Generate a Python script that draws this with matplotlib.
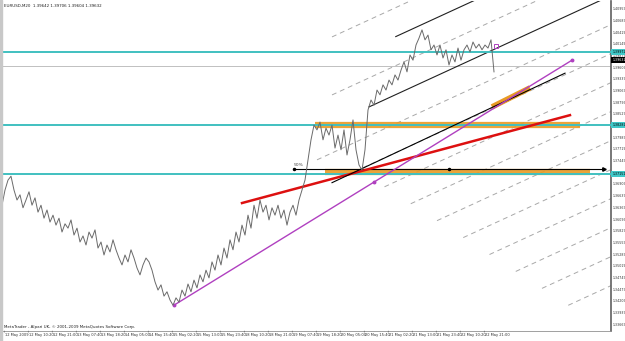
import numpy as np
import matplotlib
matplotlib.use("Agg")
import matplotlib.pyplot as plt

# price series, one value every 4 bars (M20)
close = [
    1.3643, 1.3678, 1.3701, 1.3710, 1.3678, 1.3655, 1.3667, 1.3637, 1.3655, 1.3674,
    1.3643, 1.3660, 1.3627, 1.3643, 1.3613, 1.3632, 1.3604, 1.3620, 1.3597, 1.3613,
    1.3581, 1.3600, 1.3590, 1.3609, 1.3574, 1.3590, 1.3558, 1.3572, 1.3551, 1.3581,
    1.3567, 1.3586, 1.3544, 1.3558, 1.3528, 1.3551, 1.3535, 1.3563, 1.3540, 1.3521,
    1.3505, 1.3528, 1.3512, 1.3540, 1.3521, 1.3498, 1.3482, 1.3505, 1.3521, 1.3512,
    1.3493, 1.3466, 1.3447, 1.3459, 1.3433, 1.3443, 1.3424, 1.3412, 1.3429, 1.3419,
    1.3447, 1.3433, 1.3461, 1.3443, 1.3470, 1.3452, 1.3482, 1.3466, 1.3493, 1.3475,
    1.3512, 1.3493, 1.3528, 1.3505, 1.3544, 1.3521, 1.3563, 1.3540, 1.3581, 1.3558,
    1.3597, 1.3574, 1.3620, 1.3590, 1.3643, 1.3613, 1.3655, 1.3627, 1.3643, 1.3609,
    1.3637, 1.3620, 1.3643, 1.3613, 1.3632, 1.3597, 1.3627, 1.3643, 1.3620, 1.3655,
    1.3678, 1.3701, 1.3747, 1.3794, 1.3828, 1.3817, 1.3835, 1.3794, 1.3821, 1.3805,
    1.3828, 1.3775, 1.3805, 1.3771, 1.3817, 1.3759, 1.3794, 1.3840, 1.3771, 1.3736,
    1.3724, 1.3771, 1.3863, 1.3886, 1.3874, 1.3909, 1.3898, 1.3921, 1.3909, 1.3932,
    1.3921, 1.3944, 1.3932, 1.3955, 1.3974, 1.3951, 1.3990, 1.3978, 1.4013, 1.4029,
    1.4048, 1.4025, 1.4036, 1.4002, 1.4013, 1.3990, 1.4013, 1.3983, 1.4002, 1.3967,
    1.3990, 1.3974, 1.4006, 1.3978, 1.4002, 1.4013, 1.3997, 1.4020, 1.4006, 1.4015,
    1.4002, 1.4013, 1.4006, 1.4025, 1.3951,
]
bar_step = 4

time_labels = [
    "12 May 2009", "12 May 10:20", "12 May 21:00", "13 May 07:40", "13 May 18:20",
    "14 May 05:00", "14 May 15:40", "15 May 02:20", "15 May 13:00", "15 May 23:40",
    "18 May 10:20", "18 May 21:00", "19 May 07:40", "19 May 18:20", "20 May 05:00",
    "20 May 15:40", "21 May 02:20", "21 May 13:00", "21 May 23:40", "22 May 10:20",
    "22 May 21:00",
]
price_ticks = [
    1.40959, 1.40689, 1.40419, 1.40149, 1.39879, 1.39609, 1.39339, 1.39069, 1.38799,
    1.38529, 1.38259, 1.37989, 1.37719, 1.37449, 1.37179, 1.36909, 1.36639, 1.36369,
    1.36099, 1.35829, 1.35559, 1.35289, 1.35019, 1.34749, 1.34479, 1.34209, 1.33939,
    1.33669,
]

# horizontal levels
cyan_levels = [1.39972, 1.38282, 1.37151]
bid_line = 1.39642
bid_label = 1.39790

# trend lines (bar, price) pairs
purple_line = [(229.3, 1.3412), (760.0, 1.3978)]
purple_mid = (496.0, 1.3697)
red_line = [(320.0, 1.3648), (757.3, 1.3851)]
black_line = [(440.0, 1.3695), (750.7, 1.3948)]
orange_flat = [(417.3, 770.7, 1.3828), (430.7, 784.0, 1.3720)]
orange_diag = [(653.3, 1.3870), (704.0, 1.3914)]
fifty_line = (389.3, 802.7, 1.3727)
fifty_dot = 596.0

# equidistant channel
chan_start = 489.3
chan_price = 1.3870
chan_slope = 0.0000797      # price per bar
chan_step = 0.0067
solid_k = [0, -2]
solid_start = [489.3, 525.0]
dashed_k = [-3, -1, 1, 2, 3, 4, 5, 6, 7, 8, 9, 10]
dashed_start = [440, 440, 420, 460, 510, 545, 580, 615, 650, 685, 720, 755]

x_max = 812
y_lo, y_hi = 1.33524, 1.41147

fig = plt.figure(figsize=(6.25, 3.41), dpi=100)
fig.patch.set_facecolor("white")
ax = fig.add_axes([2 / 625, 10 / 341, 609 / 625, 330 / 341])
ax.set_xlim(0, x_max)
ax.set_ylim(y_lo, y_hi)
for s in ["top", "left"]:
    ax.spines[s].set_visible(False)
ax.spines["right"].set_color("#606060")
ax.spines["right"].set_linewidth(1.2)
ax.spines["bottom"].set_color("#909090")
ax.spines["bottom"].set_linewidth(0.6)
ax.set_xticks([])
ax.set_yticks([])

# left border strip
fig.patches.append(plt.Rectangle((0, 0), 2 / 625, 1, transform=fig.transFigure,
                                 color="#c8c8c8", zorder=0))

# channel
for k, x0 in zip(dashed_k, dashed_start):
    xs = np.array([x0, x_max + 10])
    ys = chan_price - k * chan_step + chan_slope * (xs - chan_start)
    ax.plot(xs, ys, color="#a8a8a8", lw=0.7, ls=(0, (5, 4)), zorder=1)
for k, x0 in zip(solid_k, solid_start):
    xs = np.array([x0, x_max + 10])
    ys = chan_price - k * chan_step + chan_slope * (xs - chan_start)
    ax.plot(xs, ys, color="#202020", lw=0.8, zorder=2)

# horizontal levels
ax.axhline(bid_line, color="#c0c0c0", lw=0.7, zorder=1)
for lv in cyan_levels:
    ax.axhline(lv, color="#40c0c0", lw=1.4, zorder=4)

# orange zones
for x0, x1, p in orange_flat:
    ax.plot([x0, x1], [p, p], color="#e89a24", lw=4.5, solid_capstyle="butt",
            alpha=0.9, zorder=3)
ax.plot(*zip(*orange_diag), color="#e89a24", lw=4, solid_capstyle="butt", zorder=3)

# fib 50% line
ax.plot([fifty_line[0], fifty_line[1]], [fifty_line[2]] * 2, color="black", lw=0.8,
        zorder=5)
ax.plot([fifty_line[0], fifty_dot], [fifty_line[2]] * 2, "o", color="black", ms=1.5,
        zorder=5)
ax.plot([fifty_line[1]], [fifty_line[2]], marker=">", color="black", ms=2.5, zorder=5)
ax.text(fifty_line[0] - 1, fifty_line[2] + 0.0004, "50%", fontsize=3.2,
        color="#404040", va="bottom", ha="left")

# trend lines
ax.plot(*zip(*red_line), color="#dd1010", lw=1.8, zorder=6)
ax.plot(*zip(*black_line), color="black", lw=0.8, zorder=6)
ax.plot(*zip(*purple_line), color="#b040c0", lw=1.0, zorder=6)
ax.plot(*zip(*(purple_line + [purple_mid])), "o", color="#b040c0", ms=1.8,
        ls="none", zorder=6)
ax.plot([659], [1.4010], marker="s", mfc="none", mec="#b040c0", ms=3, mew=0.7,
        zorder=6)

# price
bars = np.arange(len(close)) * bar_step
ax.plot(bars, close, color="#6a6a6a", lw=0.7, zorder=7)

# right price scale
tick_fs = 2.35
for p in price_ticks:
    ax.annotate(f"{p:.5f}", xy=(1, p), xycoords=("axes fraction", "data"),
                xytext=(1.2, 0), textcoords="offset points", fontsize=tick_fs,
                va="center", ha="left", color="#303030", annotation_clip=False)
for lv in cyan_levels:
    ax.annotate(f"{lv:.5f}", xy=(1, lv), xycoords=("axes fraction", "data"),
                xytext=(1, 0), textcoords="offset points", fontsize=tick_fs,
                va="center", ha="left", color="black", annotation_clip=False,
                bbox=dict(boxstyle="square,pad=0.3", fc="#40c8c8", ec="none"))
ax.annotate(f"{bid_line - 0.0001:.5f}", xy=(1, bid_label),
            xycoords=("axes fraction", "data"), xytext=(1, 0),
            textcoords="offset points", fontsize=tick_fs, va="center", ha="left",
            color="white", annotation_clip=False,
            bbox=dict(boxstyle="square,pad=0.3", fc="black", ec="none"))

# time scale
tick_bars = np.arange(len(time_labels)) * 32 + 3
for tb, lab in zip(tick_bars, time_labels):
    ax.annotate(lab, xy=(tb, 0), xycoords=("data", "axes fraction"),
                xytext=(0.8, -1.5), textcoords="offset points", fontsize=2.6,
                va="top", ha="left", color="#303030", annotation_clip=False)
    ax.annotate("", xy=(tb, 0), xycoords=("data", "axes fraction"),
                xytext=(tb, -0.012), textcoords=("data", "axes fraction"),
                arrowprops=dict(arrowstyle="-", lw=0.5, color="#606060"),
                annotation_clip=False)

ax.text(0.004, 0.992, "EURUSD,M20  1.39642 1.39706 1.39604 1.39632", fontsize=2.9,
        transform=ax.transAxes, va="top", ha="left", color="#202020")
ax.text(0.003, 0.006, "MetaTrader - Alpari UK, \u00a9 2001-2009 MetaQuotes Software Corp.",
        fontsize=2.9, transform=ax.transAxes, va="bottom", ha="left", color="#202020")

fig.savefig("out.png", dpi=100)
